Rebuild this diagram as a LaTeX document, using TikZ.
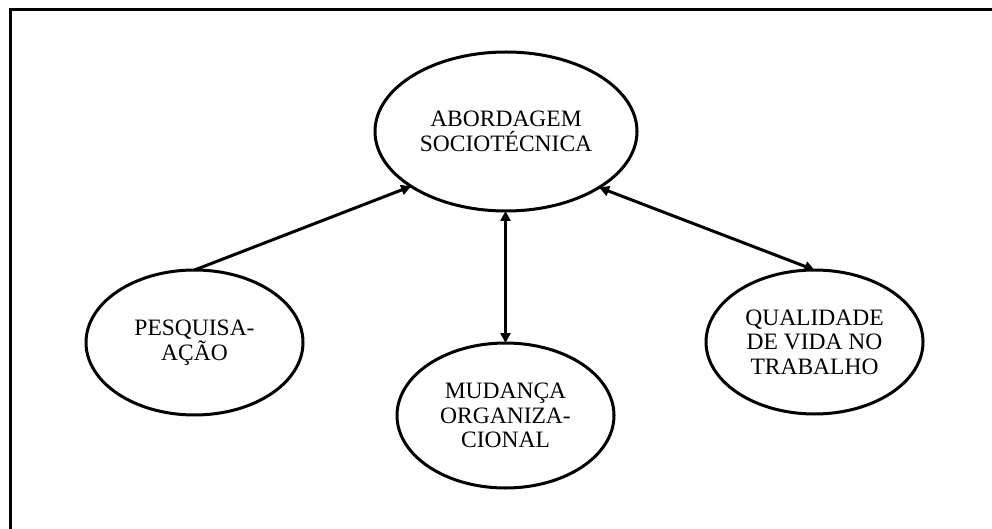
\documentclass[tikz,border=0pt]{standalone}
\usepackage{fontspec}
\setmainfont{Liberation Serif}
\usetikzlibrary{shapes.geometric,arrows.meta}
\begin{document}
\begin{tikzpicture}[x=1pt,y=-1pt,
  bubble/.style={ellipse,draw=black,line width=3pt,inner sep=0pt,outer sep=0pt,
    align=center,font=\fontsize{23.5}{24.5}\selectfont},
  link/.style={line width=3pt,{Triangle[length=10pt,width=10pt]}-{Triangle[length=10pt,width=10pt]}},
  onelink/.style={line width=3pt,-{Triangle[length=10pt,width=10pt]}}]
\useasboundingbox (0,0) rectangle (992,529);
\draw[line width=3pt] (10.5,540) -- (10.5,9.5) -- (1000,9.5);
\node[bubble,minimum width=262pt,minimum height=159pt] (a) at (506,131.5) {ABORDAGEM\\SOCIOTÉCNICA};
\node[bubble,minimum width=217pt,minimum height=145pt] (p) at (194.5,342.5) {PESQUISA-\\AÇÃO};
\node[bubble,minimum width=217pt,minimum height=145pt] (m) at (505.5,415.5) {MUDANÇA\\ORGANIZA-\\CIONAL};
\node[bubble,minimum width=217pt,minimum height=144pt] (q) at (814.5,342) {QUALIDADE\\DE VIDA NO\\TRABALHO};
\draw[onelink] (p.north) -- (a.210);
\draw[link] (m.north |- a.south) -- (m.north);
\draw[link] (a.-31) -- (q.north);
\end{tikzpicture}
\end{document}
